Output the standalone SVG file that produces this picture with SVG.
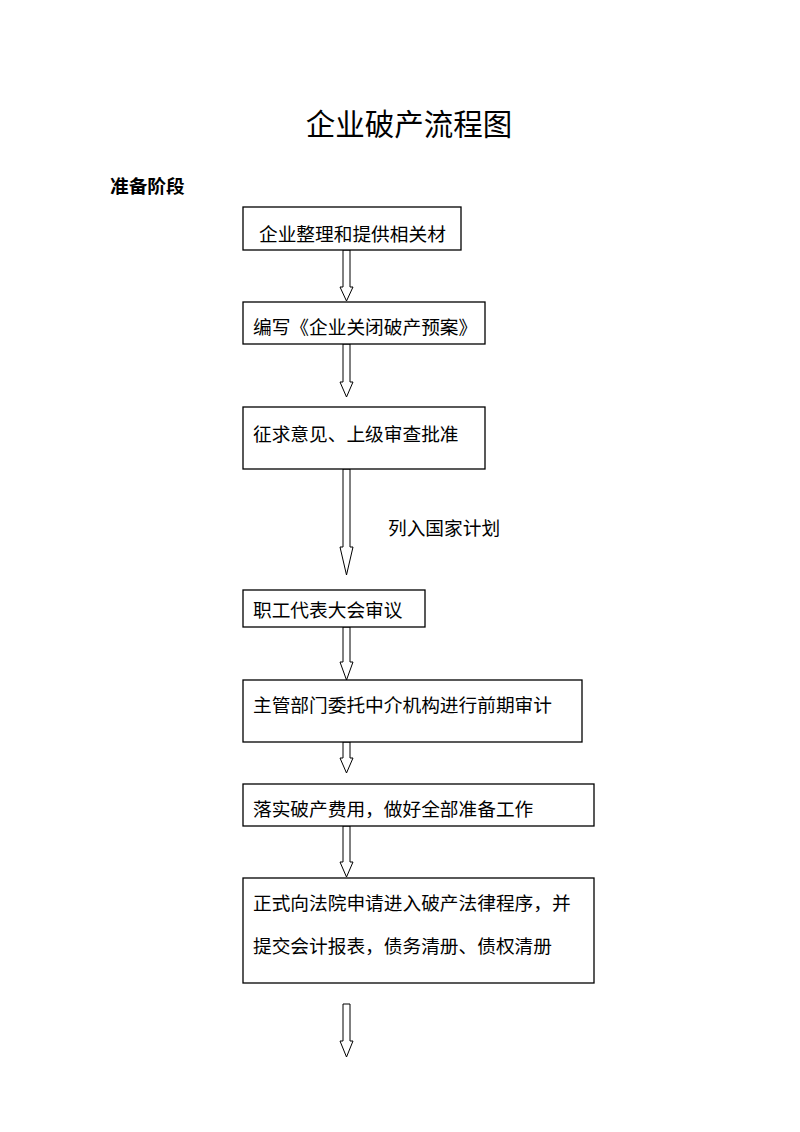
<svg xmlns="http://www.w3.org/2000/svg" width="800" height="1132" viewBox="0 0 800 1132">
<style>
text{font-family:"Liberation Serif","Noto Sans CJK SC",serif;fill:#000}
.t{font-size:18.7px}
.box{fill:#fff;stroke:#000;stroke-width:1.3}
.arr{fill:#fff;stroke:#000;stroke-width:1}
</style>
<rect width="800" height="1132" fill="#fff"/>
<text x="409" y="135" font-size="29.5" text-anchor="middle">企业破产流程图</text>
<text x="110" y="193" font-size="18.7" font-weight="bold" style="font-family:'Liberation Sans','Noto Sans CJK SC',sans-serif">准备阶段</text>
<g id="connectors">
<polygon class="arr" points="343,250 350,250 350,287 353,287 346.5,301 340,287 343,287"/>
<polygon class="arr" points="343,344 350,344 350,382 353,382 346.5,397 340,382 343,382"/>
<polygon class="arr" points="343,469 350,469 350,547 353,547 346.5,575 340,547 343,547"/>
<polygon class="arr" points="343,627 350,627 350,662 353,662 346.5,680 340,662 343,662"/>
<polygon class="arr" points="343,742 350,742 350,758 353,758 346.5,773 340,758 343,758"/>
<polygon class="arr" points="343,826 350,826 350,862 353,862 346.5,877 340,862 343,862"/>
<polygon class="arr" points="343,1004 350,1004 350,1041 353,1041 346.5,1057 340,1041 343,1041"/>
<text class="t" x="388" y="535">列入国家计划</text>
</g>
<g id="n1"><rect class="box" x="243" y="207" width="218" height="43"/><text class="t" x="259" y="241">企业整理和提供相关材</text></g>
<g id="n2"><rect class="box" x="243" y="302" width="242" height="42"/><text class="t" x="253" y="334">编写《企业关闭破产预案》</text></g>
<g id="n3"><rect class="box" x="243" y="407" width="242" height="62"/><text class="t" x="253" y="441">征求意见、上级审查批准</text></g>
<g id="n4"><rect class="box" x="243" y="590" width="182" height="37"/><text class="t" x="253" y="617">职工代表大会审议</text></g>
<g id="n5"><rect class="box" x="243" y="680" width="339" height="62"/><text class="t" x="253" y="712">主管部门委托中介机构进行前期审计</text></g>
<g id="n6"><rect class="box" x="243" y="784" width="351" height="42"/><text class="t" x="253" y="816">落实破产费用，做好全部准备工作</text></g>
<g id="n7"><rect class="box" x="243" y="878" width="351" height="105"/><text class="t" x="253" y="910">正式向法院申请进入破产法律程序，并</text><text class="t" x="253" y="953">提交会计报表，债务清册、债权清册</text></g>
</svg>
